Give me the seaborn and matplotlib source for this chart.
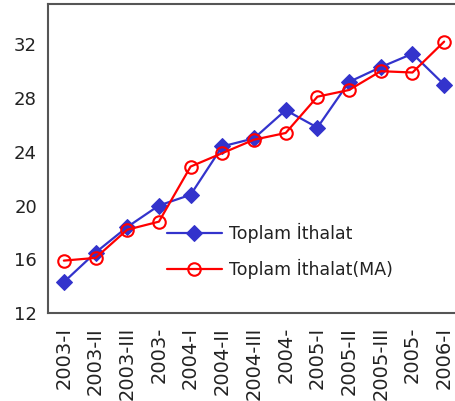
import numpy as np
import pandas as pd
import matplotlib
matplotlib.use("Agg")
import matplotlib.pyplot as plt
import seaborn as sns

periods = ["2003-I", "2003-II", "2003-III", "2003-", "2004-I", "2004-II", "2004-III",
           "2004-", "2005-I", "2005-II", "2005-III", "2005-", "2006-I"]
toplam = [14.3, 16.5, 18.4, 20.0, 20.8, 24.4, 25.0, 27.1, 25.8, 29.2, 30.3, 31.3, 29.0]
toplam_ma = [15.9, 16.1, 18.2, 18.8, 22.9, 23.9, 24.9, 25.4, 28.1, 28.6, 30.0, 29.9, 32.2]

sns.set_style("white")
plt.rcParams["font.family"] = ["DejaVu Sans"]

df = pd.DataFrame({"x": np.arange(len(periods)), "a": toplam, "b": toplam_ma})

fig = plt.figure(figsize=(4.55, 4.01), dpi=100)
ax = fig.add_axes([48 / 455, 88 / 401, 412 / 455, 309 / 401])

sns.lineplot(data=df, x="x", y="a", ax=ax, color="#3333CC", lw=1.6,
             marker="D", markersize=8, markeredgecolor="#3333CC",
             label="Toplam İthalat")
sns.lineplot(data=df, x="x", y="b", ax=ax, color="#FF0000", lw=1.6,
             marker="o", markersize=9, markerfacecolor="none",
             markeredgecolor="#FF0000", markeredgewidth=1.5,
             label="Toplam İthalat(MA)")

ax.set_xlim(-0.5, len(periods) - 0.5)
ax.set_ylim(12, 35)
ax.set_yticks([12, 16, 20, 24, 28, 32])
ax.set_xticks(np.arange(len(periods) + 1) - 0.5)
ax.set_xticklabels([])
ax.set_xticks(np.arange(len(periods)), minor=True)
ax.set_xticklabels(periods, minor=True, rotation=90, color="#222222")
ax.tick_params(axis="x", which="minor", length=0, pad=10, labelsize=14)
ax.tick_params(axis="x", which="major", direction="out", length=5, width=1.2, color="#333333")
ax.tick_params(axis="y", direction="out", length=5, width=1.2, color="#333333",
               labelsize=13, pad=3, labelcolor="#222222")
ax.set_xlabel("")
ax.set_ylabel("")
for s in ["left", "top", "bottom"]:
    ax.spines[s].set_color("#555555")
    ax.spines[s].set_linewidth(1.5)
ax.spines["right"].set_visible(False)

leg = ax.legend(loc="lower left", bbox_to_anchor=(0.25, 0.06), frameon=False,
                fontsize=12.5, handlelength=3.2, labelspacing=0.9, handletextpad=0.4)
for t in leg.get_texts():
    t.set_color("#222222")

fig.savefig("out.png", dpi=100)
